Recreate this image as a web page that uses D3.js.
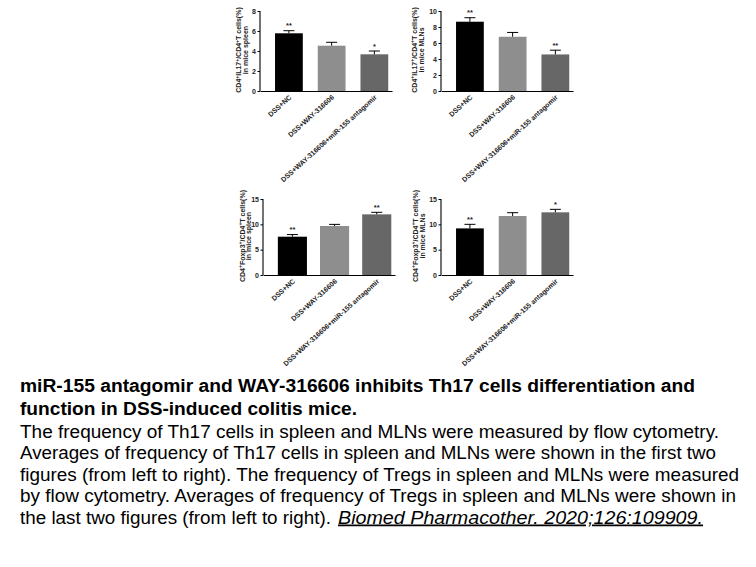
<!DOCTYPE html>
<html><head><meta charset="utf-8">
<script src="https://cdn.jsdelivr.net/npm/d3@7/dist/d3.min.js"></script>
<style>body{margin:0;background:#fff}svg{display:block}</style>
</head><body>
<svg id="c" width="756" height="567"></svg>
<script>
const groups = ["DSS+NC", "DSS+WAY-316606", "DSS+WAY-316606+miR-155 antagomir"];
const barColors = ["#000000", "#8e8e8e", "#676767"];

const th17Spleen = [5.77, 4.53, 3.67];
const th17SpleenErr = [0.26, 0.34, 0.33];
const th17SpleenSig = ["**", "", "*"];

const th17Mln = [8.66, 6.78, 4.57];
const th17MlnErr = [0.50, 0.54, 0.53];
const th17MlnSig = ["**", "", "**"];

const tregSpleen = [7.56, 9.67, 11.97];
const tregSpleenErr = [0.42, 0.32, 0.40];
const tregSpleenSig = ["**", "", "**"];

const tregMln = [9.2, 11.64, 12.37];
const tregMlnErr = [0.8, 0.66, 0.59];
const tregMlnSig = ["**", "", "*"];

const ticks4 = [0, 2, 4, 6, 8];
const ticks5 = [0, 2, 4, 6, 8, 10];
const ticks15 = [0, 5, 10, 15];

const captionBold = [
  "miR-155 antagomir and WAY-316606 inhibits Th17 cells differentiation and",
  "function in DSS-induced colitis mice."
];
const captionNormal = [
  "The frequency of Th17 cells in spleen and MLNs were measured by flow cytometry.",
  "Averages of frequency of Th17 cells in spleen and MLNs were shown in the first two",
  "figures (from left to right). The frequency of Tregs in spleen and MLNs were measured",
  "by flow cytometry. Averages of frequency of Tregs in spleen and MLNs were shown in",
  "the last two figures (from left to right)."
];
const citation = "Biomed Pharmacother. 2020;126:109909.";

const svg = d3.select("#c");
const FONT = "'Liberation Sans', Arial, sans-serif";

const panels = [
  {vals: th17Spleen, err: th17SpleenErr, sig: th17SpleenSig, ticks: ticks4, max: 8,
   ax: 260, y0: 91, y1: 11, lab: ["CD4", "+", "IL17", "+", "/CD4", "+", "T cells(%)"], lab2: "in mice spleen", lx: 241, off: 7, ly: 50, pin: 0.35},
  {vals: th17Mln, err: th17MlnErr, sig: th17MlnSig, ticks: ticks5, max: 10,
   ax: 441, y0: 91, y1: 11, lab: ["CD4", "+", "IL17", "+", "/CD4", "+", "T cells(%)"], lab2: "in mice MLNs", lx: 416.5, off: 7, ly: 50, pin: 0.35},
  {vals: tregSpleen, err: tregSpleenErr, sig: tregSpleenSig, ticks: ticks15, max: 15,
   ax: 263, y0: 275, y1: 199, lab: ["CD4", "+", "Foxp3", "+", "/CD4", "+", "T cells(%)"], lab2: "in mice spleen", lx: 244.5, off: 6.5, ly: 236, pin: 0.31},
  {vals: tregMln, err: tregMlnErr, sig: tregMlnSig, ticks: ticks15, max: 15,
   ax: 441, y0: 275, y1: 199, lab: ["CD4", "+", "Foxp3", "+", "/CD4", "+", "T cells(%)"], lab2: "in mice MLNs", lx: 417.5, off: 7, ly: 236, pin: 0.35}
];

panels.forEach(p => {
  const g = svg.append("g");
  const x = d3.scaleBand().domain(groups).range([p.ax, p.ax + 132])
    .paddingInner(p.pin).paddingOuter(0.22).align(0.8);
  const y = d3.scaleLinear().domain([0, p.max]).range([p.y0, p.y1]);

  g.selectAll("rect.bar").data(p.vals).enter().append("rect")
    .attr("class", "bar")
    .attr("x", (d, i) => x(groups[i]))
    .attr("y", d => y(d))
    .attr("width", x.bandwidth())
    .attr("height", d => y(0) - y(d))
    .attr("fill", (d, i) => barColors[i]);

  p.vals.forEach((v, i) => {
    const cx = x(groups[i]) + x.bandwidth() / 2;
    const top = y(v + p.err[i]);
    g.append("line").attr("x1", cx).attr("x2", cx).attr("y1", y(v)).attr("y2", top)
      .attr("stroke", "#000").attr("stroke-width", 1);
    g.append("line").attr("x1", cx - 5.5).attr("x2", cx + 5.5).attr("y1", top).attr("y2", top)
      .attr("stroke", "#000").attr("stroke-width", 1);
    if (p.sig[i]) {
      g.append("text").attr("x", cx).attr("y", top - 2.5)
        .attr("text-anchor", "middle").attr("font-family", FONT).attr("font-weight", "bold")
        .attr("font-size", 7.5).attr("fill", "#222").text(p.sig[i]);
    }
  });

  const yAxis = d3.axisLeft(y).tickValues(p.ticks).tickSize(2.5).tickPadding(1.5).tickFormat(d3.format("d"));
  const ya = g.append("g").attr("transform", `translate(${p.ax},0)`).call(yAxis);
  ya.select(".domain").attr("stroke", "#000").attr("stroke-width", 1.1).attr("d", `M0,${p.y1}V${p.y0}`);
  ya.selectAll(".tick line").attr("stroke", "#000");
  ya.selectAll("text").attr("font-family", FONT).attr("font-weight", "bold").attr("font-size", 7).attr("fill", "#222");

  const xAxis = d3.axisBottom(x).tickSize(0).tickFormat("");
  const xa = g.append("g").attr("transform", `translate(0,${p.y0})`).call(xAxis);
  xa.select(".domain").attr("stroke", "#000").attr("stroke-width", 1.1);

  groups.forEach((gname) => {
    const cx = x(gname) + x.bandwidth() / 2 + 3;
    g.append("text")
      .attr("transform", `translate(${cx},${p.y0 + 7}) rotate(-42)`)
      .attr("text-anchor", "end").attr("font-family", FONT).attr("font-weight", "bold")
      .attr("font-size", 7).attr("fill", "#222").text(gname);
  });

  const lt = g.append("text").attr("transform", `translate(${p.lx},${p.ly}) rotate(-90)`)
    .attr("text-anchor", "middle").attr("font-family", FONT).attr("font-weight", "bold")
    .attr("font-size", 7).attr("fill", "#222");
  let prevSup = false;
  p.lab.forEach(s => {
    if (s === "+") { lt.append("tspan").attr("font-size", 5).attr("dy", -2.5).text("+"); prevSup = true; }
    else { lt.append("tspan").attr("dy", prevSup ? 2.5 : 0).text(s); prevSup = false; }
  });
  g.append("text").attr("transform", `translate(${p.lx + p.off},${p.ly}) rotate(-90)`)
    .attr("text-anchor", "middle").attr("font-family", FONT).attr("font-weight", "bold")
    .attr("font-size", 7).attr("fill", "#222").text(p.lab2);
});

// caption
const boldEnds = [695, 357];
const normEnds = [719, 716, 739, 736, 331];
const baselines = [392, 415, 437.5, 459, 480.5, 502, 523.5];
captionBold.forEach((t, i) => {
  svg.append("text").attr("x", 20).attr("y", baselines[i])
    .attr("font-family", FONT).attr("font-weight", "bold").attr("font-size", 17.5).attr("fill", "#000")
    .attr("textLength", boldEnds[i] - 20).attr("lengthAdjust", "spacingAndGlyphs").text(t);
});
captionNormal.forEach((t, i) => {
  svg.append("text").attr("x", 20).attr("y", baselines[i + 2])
    .attr("font-family", FONT).attr("font-size", 17.5).attr("fill", "#000")
    .attr("textLength", normEnds[i] - 20).attr("lengthAdjust", "spacingAndGlyphs").text(t);
});
svg.append("text").attr("x", 338).attr("y", baselines[6])
  .attr("font-family", FONT).attr("font-style", "italic").attr("font-size", 17.5).attr("fill", "#000")
  .attr("text-decoration", "underline")
  .attr("textLength", 703 - 338).attr("lengthAdjust", "spacingAndGlyphs").text(citation);
</script>
</body></html>
